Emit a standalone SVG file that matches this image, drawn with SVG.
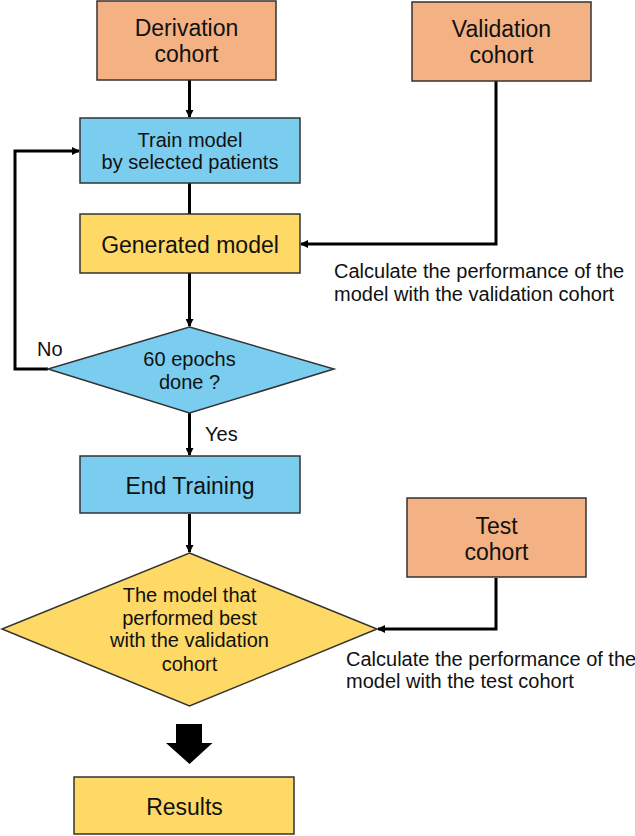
<svg xmlns="http://www.w3.org/2000/svg" width="635" height="836" viewBox="0 0 635 836">
<style>
text{font-family:"Liberation Sans",Arial,sans-serif;fill:#111;text-anchor:middle}
.orange{fill:#F4B183;stroke:#333;stroke-width:1.5}
.blue{fill:#7ACDEF;stroke:#333;stroke-width:1.5}
.yellow{fill:#FFD966;stroke:#333;stroke-width:1.5}
.line{fill:none;stroke:#000;stroke-width:3}
.big{font-size:23px}
.small{font-size:20px}
.note{font-size:20px;text-anchor:start}
</style>
<defs>
<marker id="ah" markerWidth="8" markerHeight="8" refX="7" refY="4" orient="auto" markerUnits="userSpaceOnUse">
<path d="M0,0 L8,4 L0,8 Z" fill="#000"/>
</marker>
</defs>
<rect width="635" height="836" fill="#fff"/>
<g id="connectors">
<path class="line" d="M189.5,80 V117" marker-end="url(#ah)"/>
<path class="line" d="M189.5,183 V214"/>
<path class="line" d="M496,81 V244 H301" marker-end="url(#ah)"/>
<path class="line" d="M189.5,273 V326" marker-end="url(#ah)"/>
<path class="line" d="M48,369 H15 V151 H79" marker-end="url(#ah)"/>
<path class="line" d="M189.5,413 V455" marker-end="url(#ah)"/>
<path class="line" d="M189.5,514 V552" marker-end="url(#ah)"/>
<path class="line" d="M496,578 V629 H378" marker-end="url(#ah)"/>
<path d="M176,724 H202 V743 H212.5 L189.5,764 L166,743 H176 Z" fill="#000"/>
<text x="37" y="356" class="note">No</text>
<text x="205" y="441" class="note">Yes</text>
<text x="334" y="278" class="note">Calculate the performance of the</text>
<text x="334" y="301" class="note">model with the validation cohort</text>
<text x="346" y="666" class="note">Calculate the performance of the</text>
<text x="346" y="688" class="note">model with the test cohort</text>
</g>
<g id="derivation">
<rect class="orange" x="97" y="1" width="179" height="79"/>
<text x="186.5" y="36" class="big">Derivation</text>
<text x="186.5" y="62" class="big">cohort</text>
</g>
<g id="validation">
<rect class="orange" x="412" y="2" width="179" height="79"/>
<text x="501.5" y="37" class="big">Validation</text>
<text x="501.5" y="63" class="big">cohort</text>
</g>
<g id="train">
<rect class="blue" x="80" y="118" width="220" height="65"/>
<text x="190" y="147" class="small">Train model</text>
<text x="190" y="169" class="small">by selected patients</text>
</g>
<g id="generated">
<rect class="yellow" x="80" y="214" width="220" height="59"/>
<text x="190" y="253" class="big">Generated model</text>
</g>
<g id="epochs">
<polygon class="blue" points="189.5,327 334,369 189.5,413 48,369"/>
<text x="189.5" y="366" class="small">60 epochs</text>
<text x="189.5" y="389" class="small">done ?</text>
</g>
<g id="end">
<rect class="blue" x="80" y="456" width="220" height="57"/>
<text x="190" y="494" class="big">End Training</text>
</g>
<g id="test">
<rect class="orange" x="407" y="498" width="179" height="79"/>
<text x="496.5" y="534" class="big">Test</text>
<text x="496.5" y="560" class="big">cohort</text>
</g>
<g id="best">
<polygon class="yellow" points="189.5,553 377,629 189.5,706 2,629"/>
<text x="189.5" y="602" class="small">The model that</text>
<text x="189.5" y="625" class="small">performed best</text>
<text x="189.5" y="647" class="small">with the validation</text>
<text x="189.5" y="671" class="small">cohort</text>
</g>
<g id="results">
<rect class="yellow" x="74" y="777" width="220" height="57"/>
<text x="184.5" y="815" class="big">Results</text>
</g>
</svg>
